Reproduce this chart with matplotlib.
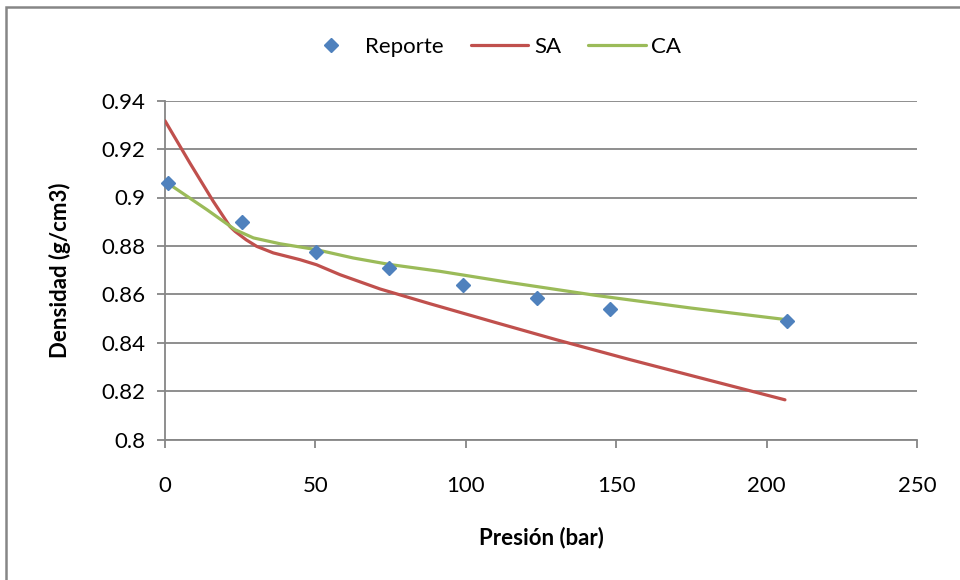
import matplotlib
matplotlib.use('Agg')
from matplotlib import pyplot as plt
from matplotlib.patches import Rectangle

plt.rcParams['font.family'] = ['Lato', 'DejaVu Sans']

# Reporte (measured points)
rep_p = [1.0, 25.5, 50.1, 74.6, 99.0, 123.6, 148.0, 206.9]
rep_d = [0.906, 0.8899, 0.8773, 0.8709, 0.8637, 0.8585, 0.8540, 0.8490]

# SA curve
sa_p = [0.0, 8.3, 16.0, 21.6, 23.3, 27.0, 30.5, 36.0, 44.9, 50.4, 58.2, 71.5, 88.1, 110.0, 130.2, 154.6, 180.0, 206.1]
sa_d = [0.9317, 0.9142, 0.8985, 0.8880, 0.8860, 0.8825, 0.8798, 0.8771, 0.8743, 0.8722, 0.8681, 0.8622, 0.8561, 0.8483, 0.8412, 0.8330, 0.8248, 0.8164]

# CA curve
ca_p = [0.8, 13.9, 23.3, 29.4, 38.2, 50.1, 62.6, 74.8, 91.4, 115.0, 143.5, 175.0, 206.7]
ca_d = [0.9060, 0.8950, 0.8867, 0.8833, 0.8809, 0.8785, 0.8750, 0.8723, 0.8695, 0.8648, 0.8595, 0.8543, 0.8495]

xticks = [0, 50, 100, 150, 200, 250]
yticks = [0.8, 0.82, 0.84, 0.86, 0.88, 0.9, 0.92, 0.94]
ylabels = ['0.8', '0.82', '0.84', '0.86', '0.88', '0.9', '0.92', '0.94']

fig = plt.figure(figsize=(9.6, 5.8), dpi=100)
ax = fig.add_axes([165/960, 1 - 439.5/580, (917 - 165)/960, (439.5 - 100.7)/580])

gray = '#868686'
ax.plot(rep_p, rep_d, 'D', color='#4F81BD', markersize=7, label='Reporte', zorder=4, clip_on=False)
ax.plot(sa_p, sa_d, color='#C0504D', lw=2.3, label='SA', zorder=3, solid_capstyle='round')
ax.plot(ca_p, ca_d, color='#9BBB59', lw=2.3, label='CA', zorder=3, solid_capstyle='round')

ax.set_xlim(0, 250)
ax.set_ylim(0.8, 0.94)
ax.set_xticks(xticks)
ax.set_yticks(yticks)
ax.set_yticklabels(ylabels)
ax.grid(axis='y', color=gray, lw=1.3)
ax.set_axisbelow(True)
for s in ['top', 'right']:
    ax.spines[s].set_visible(False)
for s in ['left', 'bottom']:
    ax.spines[s].set_color(gray)
    ax.spines[s].set_linewidth(1.3)
ax.tick_params(direction='out', length=6, width=1.3, color=gray, labelsize=16, pad=8)
ax.tick_params(axis='x', pad=20)

ax.set_xlabel('Presión (bar)', fontsize=16, fontweight='bold', labelpad=22)
ax.set_ylabel('Densidad (g/cm3)', fontsize=16, fontweight='bold', labelpad=22)

fig.legend(loc='center', bbox_to_anchor=(0.512, 1 - 47/580), ncol=3, frameon=False,
           fontsize=16, handlelength=2.6, handletextpad=0.25, columnspacing=1.2)

fig.patches.append(Rectangle((6/960, -0.1), 2, 1.1 - 7/580, transform=fig.transFigure,
                             fill=False, edgecolor=gray, lw=1.8))

fig.savefig('out.png', dpi=100)
